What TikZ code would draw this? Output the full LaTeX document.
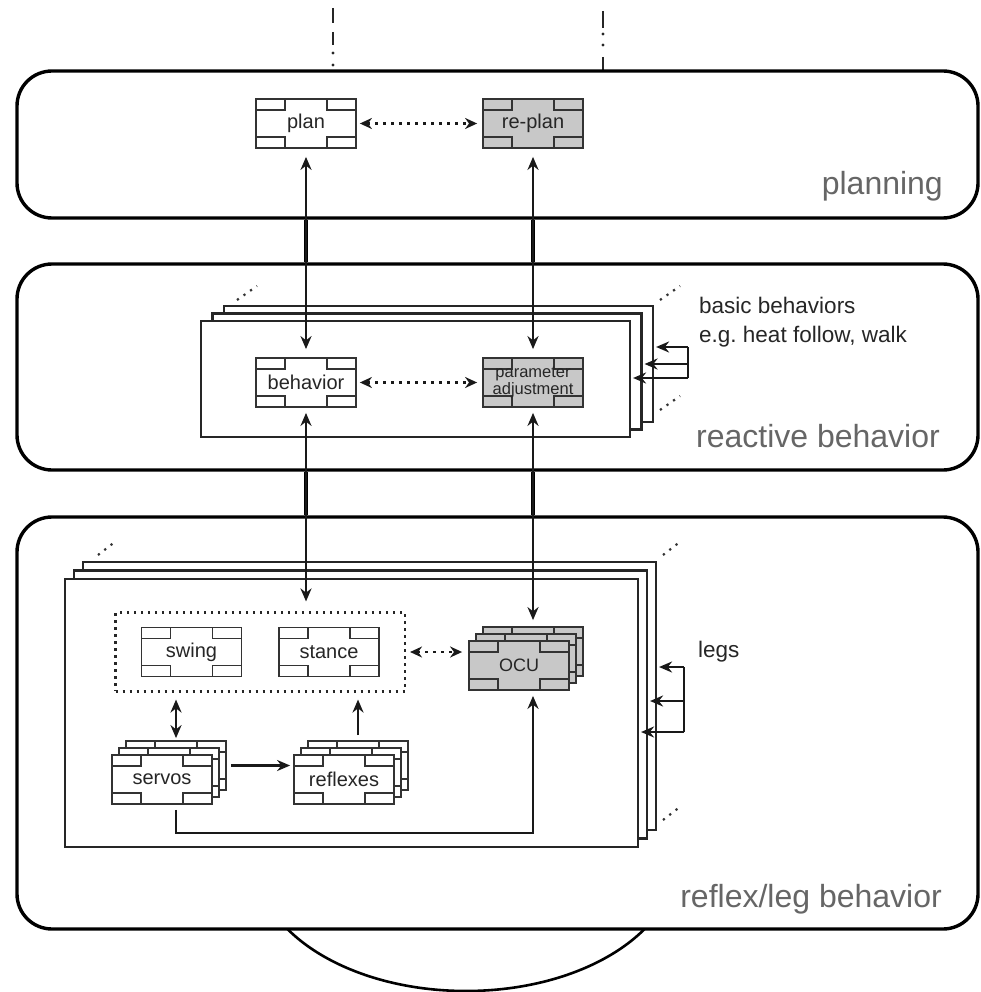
\documentclass[tikz,border=0pt]{standalone}
\usepackage{fontspec}
\setmainfont{Liberation Sans}
\usetikzlibrary{arrows.meta,fit,calc}
\definecolor{modgray}{HTML}{C8C8C8}
\definecolor{labgray}{HTML}{666666}
\begin{document}
\begin{tikzpicture}[x=1pt,y=-1pt,
  layer/.style={draw=black, line width=3.4pt, rounded corners=35pt, fill=white, minimum width=961pt, inner sep=0pt},
  sheet/.style={draw=black!85, line width=2.1pt, fill=white, minimum width=429pt, minimum height=116pt, inner sep=0pt},
  lsheet/.style={sheet, minimum width=573pt, minimum height=268pt},
  mod/.style={draw=black!80, line width=1.8pt, minimum width=100pt, minimum height=49pt, inner sep=0pt, fill=white,
    font=\fontsize{20}{24}\selectfont, text=black!85,
    path picture={
      \draw[line width=1.8pt, black!80]
        (path picture bounding box.north west) rectangle ++(29pt,-11pt)
        (path picture bounding box.north east) rectangle ++(-29pt,-11pt)
        (path picture bounding box.south west) rectangle ++(29pt,11pt)
        (path picture bounding box.south east) rectangle ++(-29pt,11pt);
    }},
  gmod/.style={mod, fill=modgray},
  arr/.style={line width=2.2pt, draw=black!90, -{Stealth[length=13pt,width=11pt]}},
  biarr/.style={line width=2.2pt, draw=black!90, {Stealth[length=13pt,width=11pt]}-{Stealth[length=13pt,width=11pt]}},
  dotarr/.style={line width=2.4pt, draw=black!90, dash pattern=on 2.4pt off 5.6pt, {Stealth[length=12pt,width=11pt]}-{Stealth[length=12pt,width=11pt]}},
  wire/.style={line width=2.2pt, draw=black!90},
  link/.style={line width=4.4pt, draw=black},
  etc/.style={line width=2.2pt, dash pattern=on 2.2pt off 5.8pt, draw=black!80},
  grpbox/.style={draw=black!85, line width=2.3pt, dash pattern=on 2.3pt off 4.7pt, inner xsep=25pt, inner ysep=14pt},
  lab/.style={font=\fontsize{32}{38}\selectfont, text=labgray, anchor=base east, inner sep=0pt},
  note/.style={font=\fontsize{22.5}{28}\selectfont, text=black!85, anchor=base west, inner sep=0pt},
  axis/.style={line width=2.8pt, draw=black!85}
]
\useasboundingbox (0,0) rectangle (980,992);

% bottom ellipse (body)
\draw[line width=2.6pt] (466,860) ellipse [x radius=210pt, y radius=131pt];

% top dash-dot lines
\draw[axis] (333,8) -- (333,23) (333,32) -- (333,45);
\fill[black!85] (333,53) circle (1.6pt) (333,65) circle (1.6pt);
\draw[axis] (603,11) -- (603,28) (603,57) -- (603,71);
\fill[black!85] (603,34) circle (1.6pt) (603,45) circle (1.6pt);

% layers
\node[layer, minimum height=147pt] (L1) at (497.5,144.5) {};
\node[layer, minimum height=206pt] (L2) at (497.5,367) {};
\node[layer, minimum height=412pt] (L3) at (497.5,723) {};

% planning
\node[mod] (plan) at (306,123.5) {plan};
\node[gmod] (replan) at (533,123.5) {re-plan};

% reactive stack
\node[sheet] (rb3) at (438.5,364) {};
\node[sheet] (rb2) at (427,371.5) {};
\node[sheet] (rb1) at (415.5,379) {};
\draw[etc] (237,300) -- (257,286);
\draw[etc] (660,300) -- (680,286);
\draw[etc] (660,410) -- (680,396);
\node[mod] (behavior) at (306,382.5) {behavior};
\node[gmod, align=center, font=\fontsize{16.5}{11}\selectfont] (param) at (533,382.5) {parameter\\adjustment};

% reflex stack
\node[lsheet] (lg3) at (369.5,696) {};
\node[lsheet] (lg2) at (360.5,704.5) {};
\node[lsheet] (lg1) at (351.5,713) {};
\draw[etc] (98,555) -- (116,541);
\draw[etc] (663,555) -- (681,541);
\draw[etc] (663,820) -- (681,806);

\node[mod] (swing) at (191.5,652) {swing};
\node[mod] (stance) at (329,652) {stance};
\node[grpbox, fit=(swing)(stance)] (grp) {};

\node[gmod] (ocu3) at (533,651.5) {};
\node[gmod] (ocu2) at (526,658.5) {};
\node[gmod, font=\fontsize{18}{22}\selectfont] (ocu) at (519,665.5) {OCU};

\node[mod] (servos3) at (176,765.5) {};
\node[mod] (servos2) at (169,772.5) {};
\node[mod] (servos) at (162,779.5) {servos};

\node[mod] (refl3) at (358,765.5) {};
\node[mod] (refl2) at (351,772.5) {};
\node[mod] (refl) at (344,779.5) {reflexes};

% inter-layer links
\draw[link] (L1.south -| plan.south) -- (L2.north -| plan.south);
\draw[link] (L1.south -| replan.south) -- (L2.north -| replan.south);
\draw[link] (L2.south -| behavior.south) -- (L3.north -| behavior.south);
\draw[link] (L2.south -| param.south) -- (L3.north -| param.south);

% connectors
\draw[biarr, shorten <=8pt, shorten >=8pt] (plan.south) -- (behavior.north);
\draw[biarr, shorten <=8pt, shorten >=8pt] (replan.south) -- (param.north);
\draw[dotarr, shorten <=3pt, shorten >=5pt] (plan.east) -- (replan.west);
\draw[dotarr, shorten <=3pt, shorten >=5pt] (behavior.east) -- (param.west);
\draw[biarr, shorten <=5pt, shorten >=10pt] (behavior.south) -- (behavior.south |- grp.north);
\draw[biarr, shorten <=5pt, shorten >=6pt] (param.south) -- (ocu3.north);
\draw[dotarr, shorten <=4pt, shorten >=6pt] (grp.east) -- (grp.east -| ocu.west);
\draw[biarr, shorten <=7pt, shorten >=2pt] (servos3.north |- grp.south) -- (servos3.north);
\draw[arr, shorten <=5pt, shorten >=7pt] (refl3.north) -- (refl3.north |- grp.south);
\draw[arr, shorten <=4pt, shorten >=3pt] (servos3.east) -- (servos3.east -| refl.west);
\coordinate (sv) at ($(servos3.center |- servos.south)+(0,5)$);
\coordinate (bus) at (176,833);
\coordinate (ocuin) at ($(ocu3.center |- ocu.south)+(0,5)$);
\draw[arr] (sv) -- (bus) -| (ocuin);

% basic behaviors arrows
\coordinate (ra) at (688,347);
\coordinate (rb) at (688,364);
\coordinate (rc) at (688,378);
\draw[wire] (ra) -- (rc);
\draw[arr, shorten >=2pt] (ra) -- (ra -| rb3.east);
\draw[arr, shorten >=2pt] (rb) -- (rb -| rb2.east);
\draw[arr, shorten >=2pt] (rc) -- (rc -| rb1.east);

% legs arrows
\coordinate (la) at (684,667);
\coordinate (lb) at (684,701);
\coordinate (lc) at (684,732);
\draw[wire] (la) -- (lc);
\draw[arr, shorten >=2pt] (la) -- (la -| lg3.east);
\draw[arr, shorten >=2pt] (lb) -- (lb -| lg2.east);
\draw[arr, shorten >=2pt] (lc) -- (lc -| lg1.east);

% labels
\node[lab] (t1) at (943,195) {planning};
\node[lab] (t2) at (940,447) {reactive behavior};
\node[lab] (t3) at (942,907) {reflex/leg behavior};
\node[note] (n1) at (699,313) {basic behaviors};
\node[note] (n2) at (699,342) {e.g.\ heat follow, walk};
\node[note] (n3) at (698,657) {legs};
\end{tikzpicture}
\end{document}
